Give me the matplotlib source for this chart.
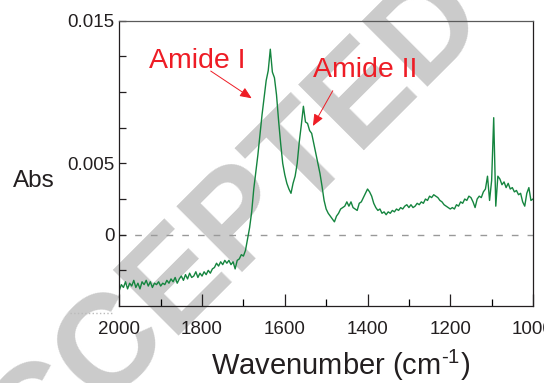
import numpy as np
import matplotlib
matplotlib.use("Agg")
import matplotlib.pyplot as plt
from matplotlib.lines import Line2D

plt.rcParams['font.family'] = ['Liberation Sans', 'DejaVu Sans']
plt.rcParams['mathtext.fontset'] = 'custom'
plt.rcParams['mathtext.rm'] = 'Liberation Sans'
plt.rcParams['mathtext.it'] = 'Liberation Sans'

# absorbance, x1e-3, wavenumber 2000 -> 1000 every 5 cm-1
abs_milli = [
    -3.9, -3.5, -3.7, -3.3, -3.8, -3.4, -3.6, -3.2, -3.7, -3.4,
    -3.8, -3.3, -3.5, -3.2, -3.6, -3.3, -3.7, -3.4, -3.5, -3.3,
    -3.6, -3.4, -3.5, -3.2, -3.4, -3.1, -3.3, -3.0, -3.4, -3.1,
    -2.9, -3.2, -2.8, -3.1, -2.7, -3.0, -2.9, -2.6, -3.0, -2.7,
    -2.9, -2.6, -2.8, -2.5, -2.7, -2.4, -2.3, -2.0, -2.2, -1.9,
    -2.1, -1.8, -2.0, -1.8, -2.1, -1.9, -2.4, -1.8, -1.7, -1.4,
    -1.5, -1.1, -0.3, 0.5, 1.6, 3.2, 4.4, 5.6, 7.0, 8.4,
    9.6, 10.8, 11.5, 13.0, 11.4, 11.0, 9.8, 8.0, 6.4, 5.0,
    4.2, 3.6, 3.2, 2.9, 3.6, 4.1, 5.0, 6.5, 7.7, 9.0,
    7.9, 7.8, 7.3, 7.1, 6.4, 5.7, 5.0, 4.3, 3.4, 2.4,
    1.8, 1.5, 1.3, 1.1, 0.9, 1.3, 1.5, 1.8, 1.9, 2.0,
    2.3, 2.0, 2.3, 1.9, 1.8, 1.7, 2.2, 2.3, 2.6, 2.9,
    3.2, 3.0, 2.7, 2.2, 1.9, 1.7, 1.8, 1.5, 1.6, 1.4,
    1.6, 1.5, 1.7, 1.6, 1.8, 1.7, 1.9, 1.8, 2.0, 2.1,
    1.9, 2.1, 1.9, 2.0, 2.2, 2.1, 2.3, 2.2, 2.5, 2.4,
    2.7, 2.6, 2.8, 2.7, 2.6, 2.4, 2.3, 2.1, 2.0, 1.9,
    1.8, 1.9, 1.8, 2.1, 2.0, 2.3, 2.2, 2.5, 2.4, 2.7,
    2.6, 2.3, 1.9, 2.5, 2.7, 2.6, 3.0, 3.2, 4.1, 2.4,
    3.8, 8.2, 2.0, 4.1, 3.9, 3.5, 3.7, 3.3, 3.6, 3.2,
    3.3, 3.0, 3.1, 2.8, 2.9, 2.3, 2.0, 2.9, 3.3, 2.4,
    2.5,
]
wavenumber = np.linspace(2000, 1000, len(abs_milli))
absorbance = np.array(abs_milli) * 1e-3

ytick_vals = [-0.0025, 0, 0.0025, 0.005, 0.0075, 0.01, 0.0125, 0.015]
ytick_text = ['', '0', '', '0.005', '', '', '', '0.015']
xtick_major = [2000, 1800, 1600, 1400, 1200, 1000]
xtick_minor = [1900, 1700, 1500, 1300, 1100]

fig = plt.figure(figsize=(5.44, 3.83), dpi=100)
ax = fig.add_axes([0.2193, 0.201, 0.7605, 0.745])
ax.patch.set_visible(False)
ax.set_zorder(2)

# watermark behind everything
fig.text(203 / 544, 1 - 259 / 383, 'ACCEPTED', rotation=45, fontsize=97,
         fontweight='bold', color='#cbcbcb', ha='center', va='center',
         rotation_mode='anchor', zorder=0)

ax.axhline(0, color='#999999', lw=1.0, ls=(0, (4.8, 6.5)), zorder=1)
ax.plot(wavenumber, absorbance, color='#15853f', lw=1.0, zorder=2)

ax.set_xlim(2000, 1000)
ax.set_ylim(-0.005, 0.015)
ax.set_yticks(ytick_vals)
ax.set_yticklabels(ytick_text)
ax.set_xticks(xtick_major)
ax.set_xticklabels([str(v) for v in xtick_major])
ax.set_xticks(xtick_minor, minor=True)

ax.tick_params(axis='y', direction='in', length=5.3, width=0.9, pad=3.6,
               labelsize=13.5, colors='#231f20')
ax.tick_params(axis='x', which='major', direction='in', length=8.6, width=0.9,
               pad=10.5, labelsize=13.5, colors='#231f20')
ax.tick_params(axis='x', which='minor', direction='in', length=5.4, width=0.9)

for side in ['left', 'bottom', 'right']:
    ax.spines[side].set_color('#231f20')
    ax.spines[side].set_linewidth(0.9)
ax.spines['top'].set_color('#5a5a5a')
ax.spines['top'].set_linewidth(0.9)

fig.text(12.7 / 544, 1 - 186.7 / 383, 'Abs', fontsize=17.5, ha='left',
         va='baseline', color='#231f20', zorder=3)
fig.text(341 / 544, 1 - 375 / 383, 'Wavenumber (cm$^{\u2010 1}$)', fontsize=21,
         ha='center', va='baseline', color='#231f20', zorder=3)

red = '#ee1c25'
ax.annotate('', xy=(1680, 0.00956), xytext=(1779, 0.01147),
            arrowprops=dict(arrowstyle='-|>,head_length=0.7,head_width=0.3',
                            color=red, lw=0.7, shrinkA=0, shrinkB=0))
ax.text(1928, 0.01166, 'Amide I', color=red, fontsize=20.5, va='baseline')
ax.annotate('', xy=(1532, 0.00762), xytext=(1484, 0.01009),
            arrowprops=dict(arrowstyle='-|>,head_length=0.7,head_width=0.3',
                            color=red, lw=0.7, shrinkA=0, shrinkB=0))
ax.text(1532.5, 0.01103, 'Amide II', color=red, fontsize=20.5, va='baseline')

# small dotted remnant left of the x axis
fig.add_artist(Line2D([70 / 544, 113 / 544], [1 - 313 / 383] * 2,
                      ls=':', lw=1.0, color='#bbbbbb', zorder=3))

fig.savefig('out.png', dpi=100)
